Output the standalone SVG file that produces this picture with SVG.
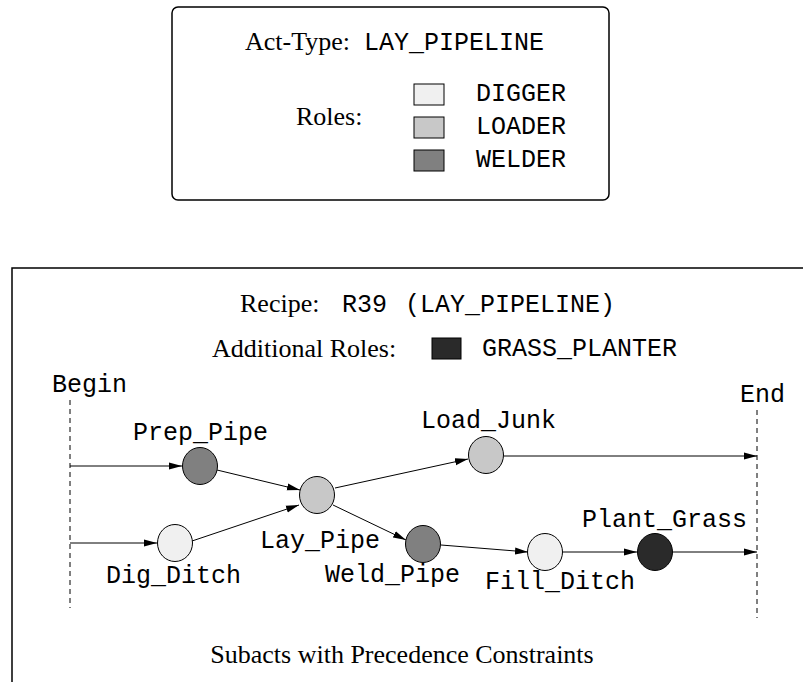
<svg xmlns="http://www.w3.org/2000/svg" width="803" height="682" viewBox="0 0 803 682">
<style>
.serif{font-family:"Liberation Serif","Times New Roman",serif;font-size:26px;fill:#000}
.mono{font-family:"Liberation Mono","Courier New",monospace;font-size:25px;fill:#000}
.frame{fill:#fff;stroke:#000;stroke-width:1.5}
.sw{stroke:#000;stroke-width:1}
.node{stroke:#000;stroke-width:1}
.edge{stroke:#000;stroke-width:1;fill:none;marker-end:url(#arr)}
.dash{stroke:#000;stroke-width:1;stroke-dasharray:5 4;fill:none}
.digger{fill:#f0f0f0}
.loader{fill:#c8c8c8}
.welder{fill:#808080}
.planter{fill:#2a2a2a}
</style>
<defs>
<marker id="arr" markerUnits="userSpaceOnUse" markerWidth="14" markerHeight="8" refX="13" refY="4" orient="auto">
<path d="M0,0.5 L13,4 L0,7.5 Z" fill="#000"/>
</marker>
</defs>
<rect width="803" height="682" fill="#fff"/>

<g id="acttype-box">
<rect class="frame" x="172" y="7" width="437" height="193" rx="6"/>
<text class="serif" x="245" y="50">Act-Type:</text>
<text class="mono" x="364" y="50">LAY_PIPELINE</text>
<text class="serif" x="296" y="125">Roles:</text>
<rect class="sw digger" x="414" y="84" width="30" height="21"/>
<rect class="sw loader" x="414" y="117" width="30" height="21"/>
<rect class="sw welder" x="414" y="150" width="30" height="21"/>
<text class="mono" x="476" y="101">DIGGER</text>
<text class="mono" x="476" y="134">LOADER</text>
<text class="mono" x="476" y="167">WELDER</text>
</g>

<g id="recipe-box">
<rect class="frame" x="12" y="268" width="800" height="430"/>
<text class="serif" x="240" y="312">Recipe:</text>
<text class="mono" x="342" y="312">R39</text>
<text class="mono" x="405" y="312">(LAY_PIPELINE)</text>
<text class="serif" x="212" y="357">Additional Roles:</text>
<rect class="sw planter" x="432" y="338" width="29" height="21"/>
<text class="mono" x="482" y="356">GRASS_PLANTER</text>
<text class="serif" x="402" y="663" text-anchor="middle">Subacts with Precedence Constraints</text>
</g>

<g id="begin">
<text class="mono" x="52" y="392">Begin</text>
<line class="dash" x1="70" y1="400" x2="70" y2="608"/>
</g>
<g id="end">
<text class="mono" x="740" y="402">End</text>
<line class="dash" x1="757" y1="410" x2="757" y2="618"/>
</g>

<g id="connectors">
<line class="edge" x1="70" y1="466" x2="182" y2="466"/>
<line class="edge" x1="70" y1="543" x2="157" y2="543"/>
<line class="edge" x1="217" y1="470" x2="300" y2="490"/>
<line class="edge" x1="192" y1="541" x2="299" y2="505"/>
<line class="edge" x1="335" y1="488" x2="468" y2="459"/>
<line class="edge" x1="333" y1="505" x2="406" y2="540"/>
<line class="edge" x1="504" y1="456" x2="757" y2="456"/>
<line class="edge" x1="441" y1="545" x2="528" y2="552"/>
<line class="edge" x1="563" y1="552" x2="637" y2="552"/>
<line class="edge" x1="673" y1="552" x2="757" y2="552"/>
</g>

<g id="prep-pipe">
<ellipse class="node welder" cx="200" cy="466" rx="17.5" ry="18.5"/>
<text class="mono" x="133" y="440">Prep_Pipe</text>
</g>
<g id="dig-ditch">
<ellipse class="node digger" cx="175" cy="543" rx="17.5" ry="18.5"/>
<text class="mono" x="106" y="583">Dig_Ditch</text>
</g>
<g id="lay-pipe">
<ellipse class="node loader" cx="317" cy="495" rx="17.5" ry="18.5"/>
<text class="mono" x="260" y="548">Lay_Pipe</text>
</g>
<g id="load-junk">
<ellipse class="node loader" cx="486" cy="455" rx="17.5" ry="18.5"/>
<text class="mono" x="421" y="428">Load_Junk</text>
</g>
<g id="weld-pipe">
<ellipse class="node welder" cx="423" cy="544" rx="17.5" ry="18.5"/>
<text class="mono" x="325" y="582">Weld_Pipe</text>
</g>
<g id="fill-ditch">
<ellipse class="node digger" cx="545" cy="552" rx="17.5" ry="18.5"/>
<text class="mono" x="485" y="589">Fill_Ditch</text>
</g>
<g id="plant-grass">
<ellipse class="node planter" cx="655" cy="552" rx="17.5" ry="18.5"/>
<text class="mono" x="582" y="527">Plant_Grass</text>
</g>
</svg>
